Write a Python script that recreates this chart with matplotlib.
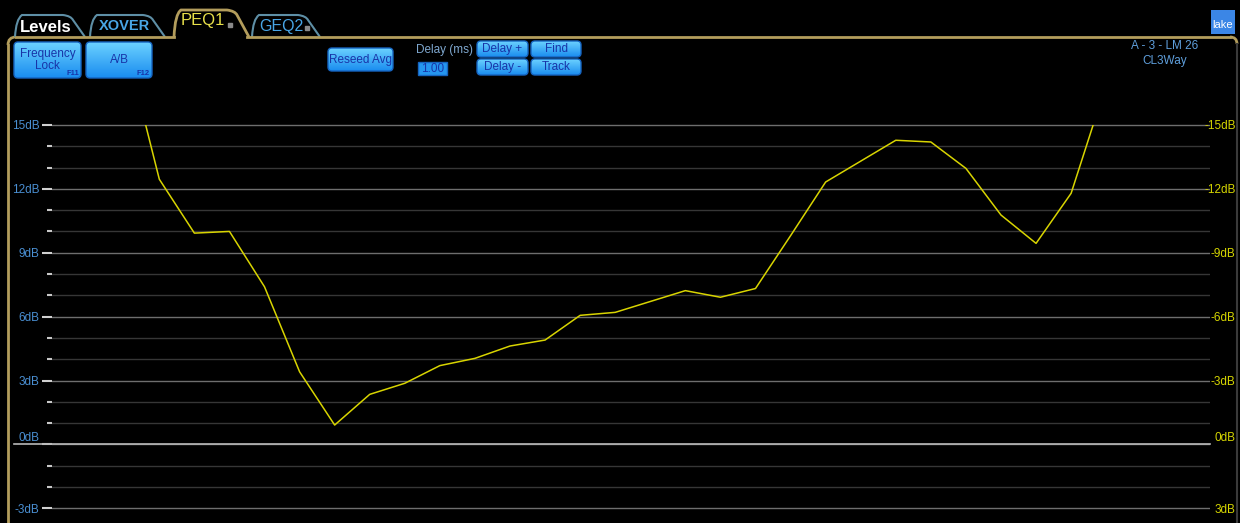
import numpy as np
import matplotlib
matplotlib.use("Agg")
import matplotlib.pyplot as plt
from matplotlib.patches import FancyBboxPatch, Rectangle, PathPatch
from matplotlib.path import Path
from matplotlib.ticker import FixedLocator

plt.rcParams['font.family'] = ['Liberation Sans', 'DejaVu Sans']

# band index along the x axis and the measured response (dB)
bands = np.arange(29)
gain_db = [19.0, 12.45, 9.92, 10.0, 7.40, 3.41, 0.91, 2.35, 2.87, 3.70,
           4.04, 4.62, 4.90, 6.06, 6.20, 6.71, 7.22, 6.91, 7.32, 9.80,
           12.32, 13.30, 14.28, 14.20, 12.96, 10.77, 9.44, 11.79, 16.9]
db_ticks = [-3, 0, 3, 6, 9, 12, 15]
db_minor = [-2, -1, 1, 2, 4, 5, 7, 8, 10, 11, 13, 14]
tab_names = ['Levels', 'XOVER', 'PEQ1', 'GEQ2']
device_info = ['A - 3 - LM 26', 'CL3Way']

W, H = 1240, 523
fig = plt.figure(figsize=(W / 100, H / 100), dpi=100, facecolor='black')

# ---- chrome layer in pixel coordinates ----
ui = fig.add_axes([0, 0, 1, 1])
ui.set_facecolor('black')
ui.axis('off')

GOLD = '#b39d5c'
TABLINE = '#5e8fa6'
BTN_TXT = '#1834a8'


def tab(x0, x1, top, color, lw=1.5):
    verts = [(x0, 37), (x0 + 1, top + 4), (x0 + 7, top),
             (x1 - 22, top), (x1 - 14, top + 1), (x1 - 12, top + 5), (x1, 37)]
    codes = [Path.MOVETO, Path.CURVE3, Path.CURVE3,
             Path.LINETO, Path.CURVE3, Path.CURVE3, Path.LINETO]
    ui.add_patch(PathPatch(Path(verts, codes), fill=False, edgecolor=color, lw=lw))


def button(x0, y0, x1, y1, label, size=8.5, fkey=None):
    patch = FancyBboxPatch((x0, y0), x1 - x0, y1 - y0,
                           boxstyle='round,pad=0,rounding_size=4',
                           facecolor='none', edgecolor='#1664c0', lw=1.0, zorder=3)
    ui.add_patch(patch)
    grad = np.linspace(0, 1, 40)[:, None]
    top_c = np.array([0.42, 0.82, 1.0])
    bot_c = np.array([0.10, 0.55, 0.94])
    img = top_c * (1 - grad[..., None]) + bot_c * grad[..., None]
    img = np.repeat(img, 4, axis=1)
    im = ui.imshow(img, extent=(x0, x1, y1, y0), aspect='auto', zorder=2,
                   interpolation='bilinear')
    im.set_clip_path(patch)
    ui.text((x0 + x1) / 2, (y0 + y1) / 2, label, color=BTN_TXT, fontsize=size,
            ha='center', va='center', linespacing=0.95, zorder=4)
    if fkey:
        ui.text(x1 - 2, y1 - 1, fkey, color=BTN_TXT, fontsize=5.5, weight='bold',
                ha='right', va='bottom', zorder=4)


# outer frame
ui.plot([8, 8], [523, 45], color=GOLD, lw=2)
ui.add_patch(PathPatch(Path([(8, 45), (8, 37), (16, 37)],
                            [Path.MOVETO, Path.CURVE3, Path.CURVE3]),
                       fill=False, edgecolor=GOLD, lw=2))
ui.plot([16, 174], [37, 37], color=GOLD, lw=2)
ui.plot([247, 1230], [37, 37], color=GOLD, lw=2)
ui.add_patch(PathPatch(Path([(1230, 37), (1237, 37), (1237, 44)],
                            [Path.MOVETO, Path.CURVE3, Path.CURVE3]),
                       fill=False, edgecolor=GOLD, lw=2))
ui.plot([1237, 1237], [44, 523], color='#3a3a3a', lw=1.5)

# tabs
tab(15, 85, 15, TABLINE)
tab(90, 165, 15, TABLINE)
tab(174, 249, 10, GOLD, lw=2)
tab(252, 320, 15, TABLINE)
ui.text(46, 27, tab_names[0], color='white', fontsize=12, weight='bold', ha='center', va='center')
ui.text(124, 26, tab_names[1], color='#49a6e6', fontsize=10.5, weight='bold', ha='center', va='center')
ui.text(203, 21, tab_names[2], color='#e8e04a', fontsize=12, ha='center', va='center')
ui.add_patch(Rectangle((228, 23), 4, 4, color='#8a8a8a'))
ui.text(281, 26, tab_names[3], color='#49a6e6', fontsize=11.5, ha='center', va='center')
ui.add_patch(Rectangle((305, 26), 4, 4, color='#8a8a8a'))

# buttons
button(14, 42, 81, 78, 'Frequency\nLock', fkey='F11')
button(86, 42, 152, 78, 'A/B', fkey='F12')
button(328, 48, 393, 71, 'Reseed Avg')
button(477, 41, 528, 57, 'Delay +')
button(477, 59, 528, 75, 'Delay -')
button(531, 41, 581, 57, 'Find')
button(531, 59, 581, 75, 'Track')
ui.text(445, 50, 'Delay (ms)', color='#7fa8d0', fontsize=8.5, ha='center', va='center')
ui.add_patch(Rectangle((418, 62), 29, 13, facecolor='#2596f0', edgecolor='#1664c0', lw=1))
ui.text(432.5, 68.5, '1.00', color=BTN_TXT, fontsize=8.5, ha='center', va='center')

# logo and device info
ui.add_patch(Rectangle((1211, 10), 24, 24, facecolor='#3b86e6'))
ui.text(1223, 25, 'lake', color='white', fontsize=8, ha='center', va='center')
ui.text(1165, 46, device_info[0], color='#5f9fdc', fontsize=8.5, ha='center', va='center')
ui.text(1165, 61, device_info[1], color='#5f9fdc', fontsize=8.5, ha='center', va='center')

ui.set_xlim(0, W)
ui.set_ylim(H, 0)

# ---- response plot ----
px0, px1, py_top = 52, 1210, 80
ax = fig.add_axes([px0 / W, 0, (px1 - px0) / W, (H - py_top) / H])
ax.set_facecolor('none')
ax.set_xlim(-2.06, 30.96)
ax.set_ylim(-3.69, 17.11)
for s in ax.spines.values():
    s.set_visible(False)
ax.set_xticks([])

ax.yaxis.set_major_locator(FixedLocator(db_ticks))
ax.yaxis.set_minor_locator(FixedLocator(db_minor))
ax.set_yticklabels([f'{v}dB' for v in db_ticks])
ax.tick_params(axis='y', which='major', length=7, width=1.5, color='#d0d0d0',
               labelcolor='#4a8fd2', labelsize=8.5, pad=2)
ax.tick_params(axis='y', which='minor', length=3.5, width=1.5, color='#c8c8c8')
ax.grid(axis='y', which='minor', color='#363636', lw=1)
ax.grid(axis='y', which='major', color='#6e6e6e', lw=1)
ax.set_axisbelow(True)

# zero line reaches out to the frame
ax.axhline(0, xmin=-(px0 - 14) / (px1 - px0), xmax=1, color='#b8b8b8', lw=1.2,
           clip_on=False, zorder=1.5)
zero_i = db_ticks.index(0)
ax.yaxis.get_major_ticks()[zero_i].tick1line.set_visible(False)
ax.get_yticklabels()[zero_i].set_verticalalignment('bottom')

ax2 = ax.twinx()
ax2.set_ylim(ax.get_ylim())
for s in ax2.spines.values():
    s.set_visible(False)
ax2.yaxis.set_major_locator(FixedLocator(db_ticks))
ax2.set_yticklabels([f'{-v}dB' for v in db_ticks])
ax2.tick_params(axis='y', length=0, labelcolor='#d6d600', labelsize=8.5, pad=18.5)
for lab in ax2.get_yticklabels():
    lab.set_horizontalalignment('right')
ax2.get_yticklabels()[zero_i].set_verticalalignment('bottom')

line, = ax.plot(bands, gain_db, color='#d8d400', lw=1.1, zorder=3)
line.set_clip_path(Rectangle((-3, -4), 36, 19, transform=ax.transData))

fig.savefig('out.png', dpi=100, facecolor='black')
